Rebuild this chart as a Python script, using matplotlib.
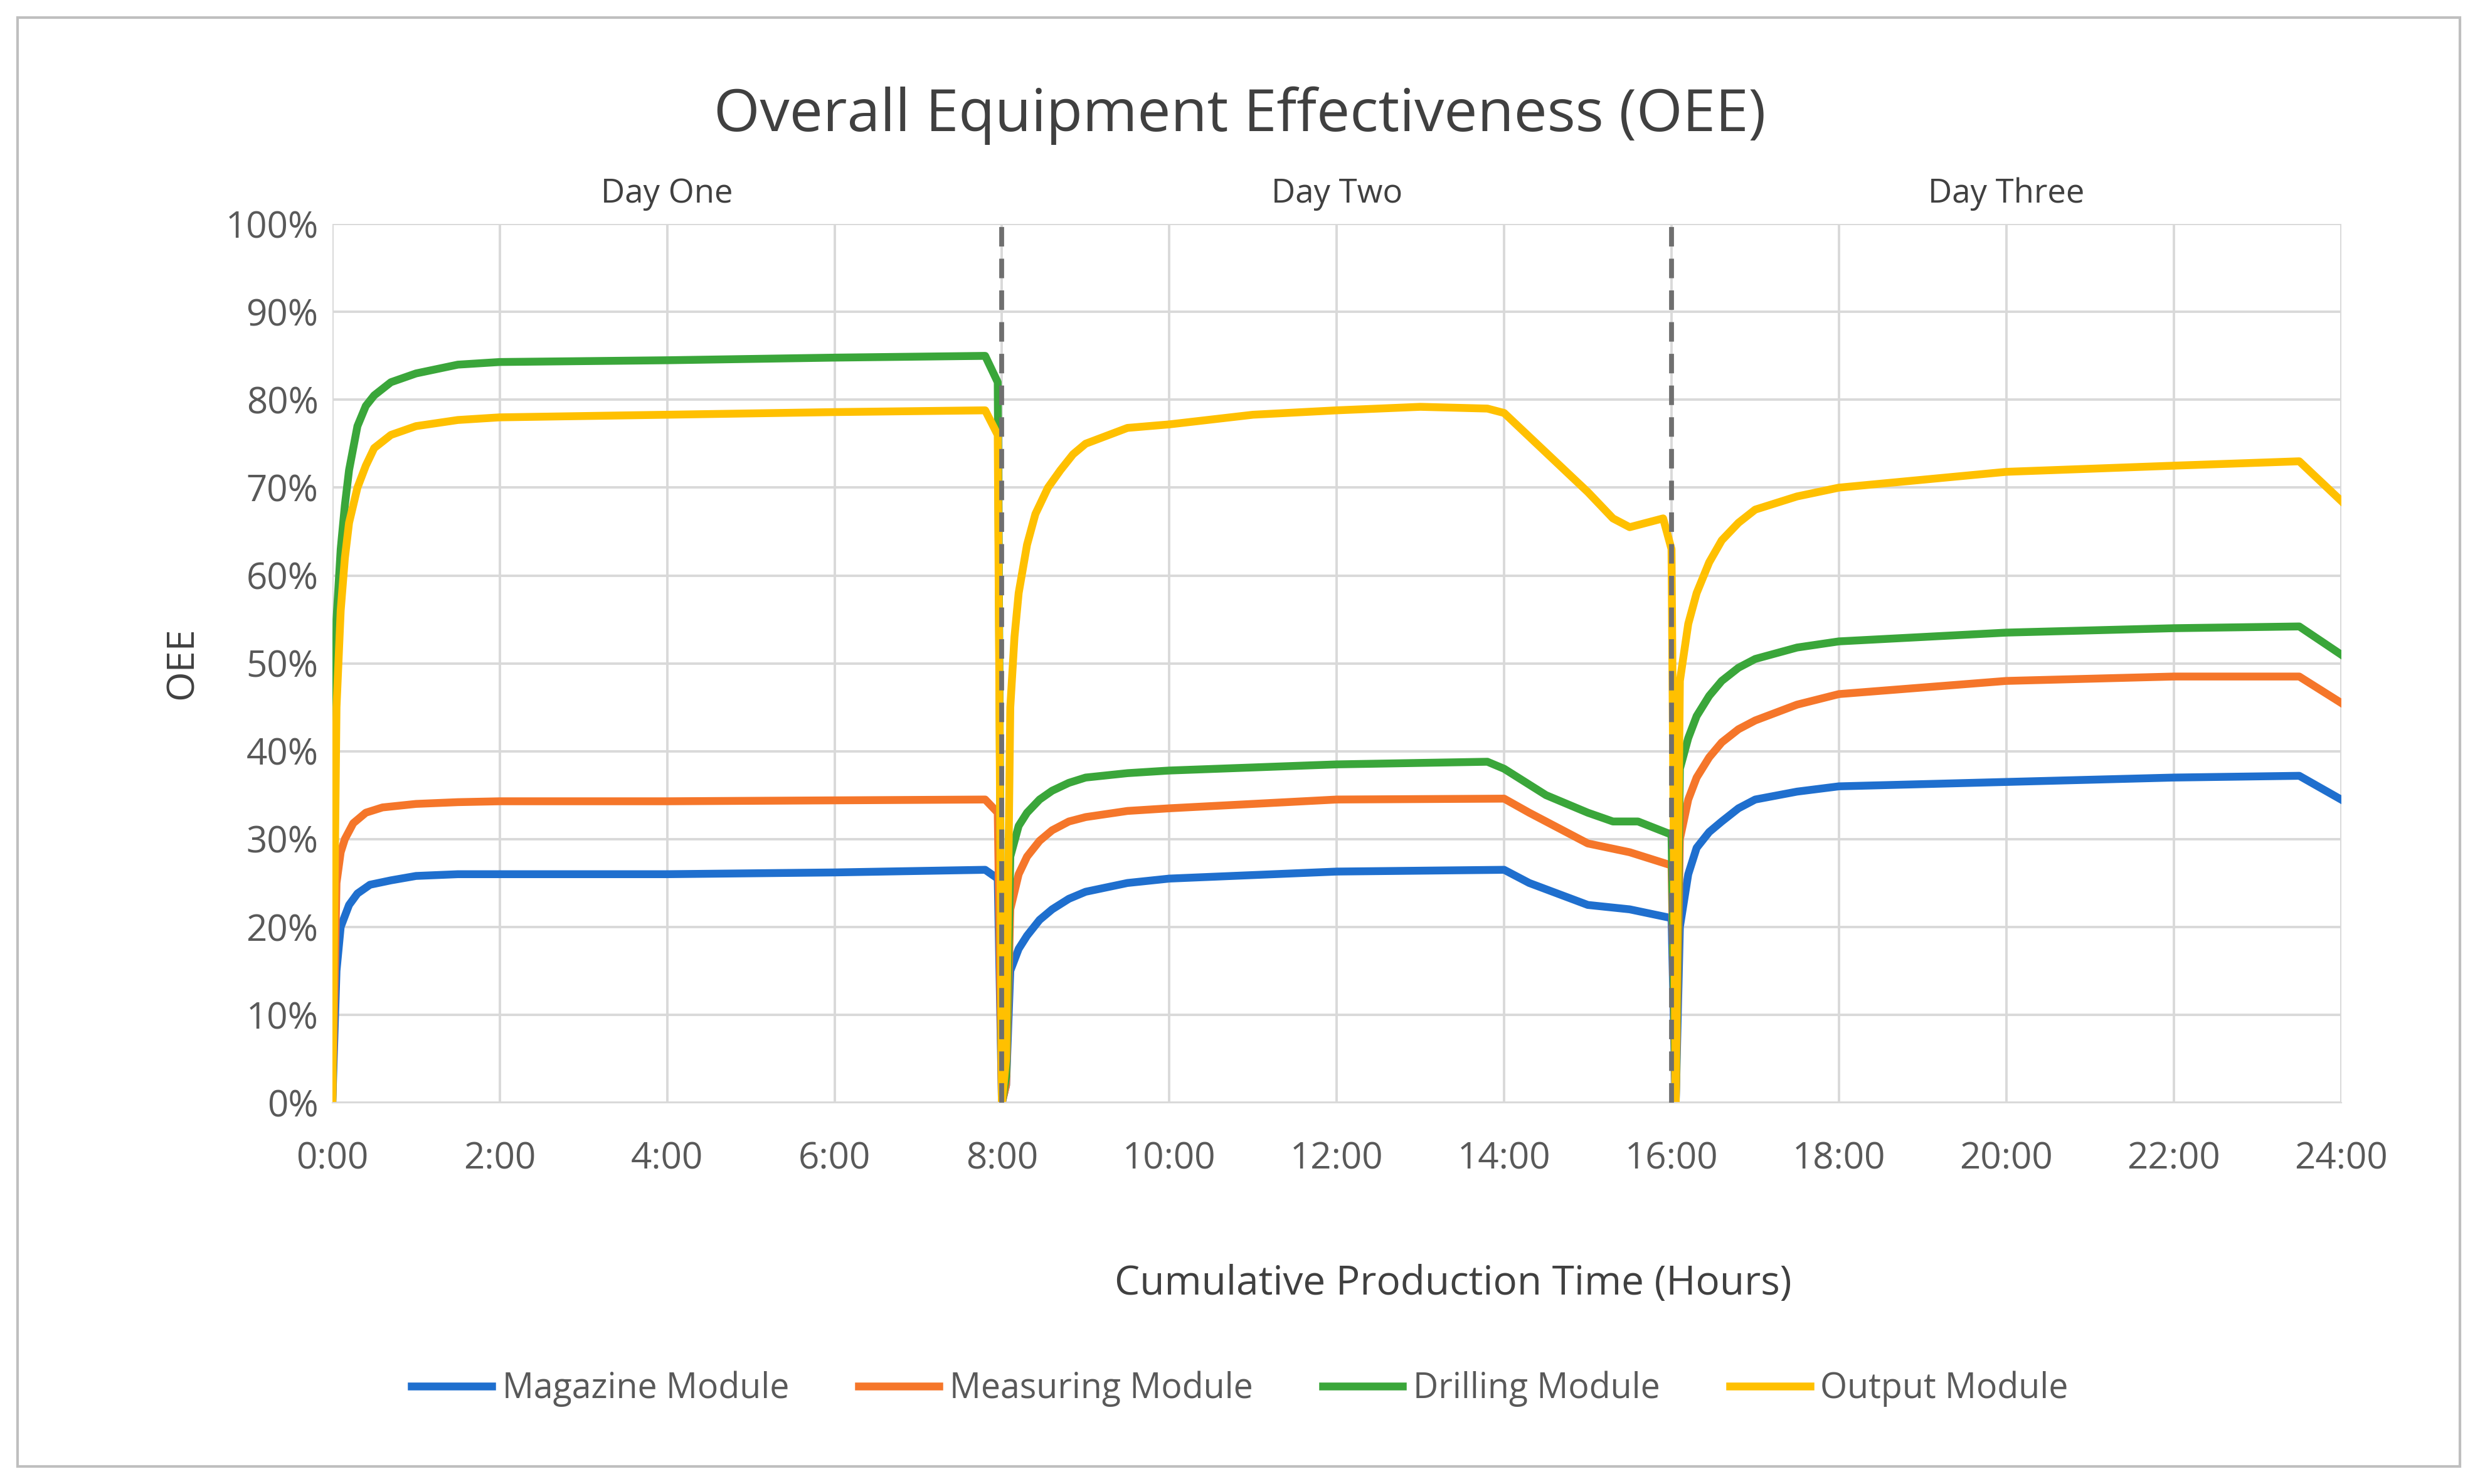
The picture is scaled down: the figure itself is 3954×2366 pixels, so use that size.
import matplotlib.pyplot as plt
from matplotlib.patches import Rectangle

plt.rcParams['font.family'] = ['Open Sans', 'DejaVu Sans']

# time in hours, OEE in %
mag_t = [0, 0.05, 0.1, 0.2, 0.3, 0.45, 0.7, 1, 1.5, 2, 4, 6, 7.8, 7.95, 8.0,
         8.05, 8.1, 8.2, 8.3, 8.45, 8.6, 8.8, 9, 9.5, 10, 12, 14, 14.3, 15, 15.5, 16,
         16.05, 16.1, 16.2, 16.3, 16.45, 16.6, 16.8, 17, 17.5, 18, 20, 22, 23.5, 24]
mag_v = [0, 15, 20, 22.5, 23.8, 24.8, 25.3, 25.8, 26, 26, 26, 26.2, 26.5, 25.5, 0,
         2, 15, 17.5, 19, 20.8, 22, 23.2, 24, 25, 25.5, 26.3, 26.5, 25, 22.5, 22, 21,
         0, 20, 26, 29, 30.8, 32, 33.5, 34.5, 35.4, 36, 36.5, 37, 37.2, 34.5]

meas_t = [0, 0.05, 0.1, 0.15, 0.25, 0.4, 0.6, 1, 1.5, 2, 4, 7.8, 7.95, 8.0,
          8.05, 8.1, 8.2, 8.3, 8.45, 8.6, 8.8, 9, 9.5, 10, 12, 14, 14.3, 15, 15.5, 16,
          16.05, 16.1, 16.2, 16.3, 16.45, 16.6, 16.8, 17, 17.5, 18, 20, 22, 23.5, 24]
meas_v = [0, 25, 28.5, 30, 31.8, 33, 33.6, 34, 34.2, 34.3, 34.3, 34.5, 33, 0,
          2, 22, 26, 28, 29.8, 31, 32, 32.5, 33.2, 33.5, 34.5, 34.6, 33, 29.5, 28.5, 27,
          0, 30, 34.5, 37, 39.3, 41, 42.5, 43.5, 45.3, 46.5, 48, 48.5, 48.5, 45.5]

drill_t = [0, 0.05, 0.1, 0.15, 0.2, 0.3, 0.4, 0.5, 0.7, 1, 1.5, 2, 4, 6, 7.8, 7.95, 8.0,
           8.05, 8.1, 8.2, 8.3, 8.45, 8.6, 8.8, 9, 9.5, 10, 12, 13.8, 14, 14.5, 15, 15.3, 15.6, 16,
           16.05, 16.1, 16.2, 16.3, 16.45, 16.6, 16.8, 17, 17.5, 18, 20, 22, 23.5, 24]
drill_v = [0, 55, 63, 68, 72, 77, 79.3, 80.5, 82, 83, 84, 84.3, 84.5, 84.8, 85, 82, 0,
           3, 28, 31.5, 33, 34.5, 35.5, 36.4, 37, 37.5, 37.8, 38.5, 38.8, 38, 35, 33, 32, 32, 30.5,
           0, 38, 41.5, 44, 46.3, 48, 49.5, 50.5, 51.8, 52.5, 53.5, 54, 54.2, 51]

out_t = [0, 0.05, 0.1, 0.15, 0.2, 0.3, 0.4, 0.5, 0.7, 1, 1.5, 2, 4, 6, 7.8, 7.95, 8.0,
         8.05, 8.1, 8.15, 8.2, 8.3, 8.4, 8.55, 8.7, 8.85, 9, 9.5, 10, 11, 12, 13, 13.8, 14,
         14.5, 15, 15.3, 15.5, 15.9, 16,
         16.05, 16.1, 16.2, 16.3, 16.45, 16.6, 16.8, 17, 17.5, 18, 20, 22, 23.5, 24]
out_v = [0, 45, 56, 62, 66, 70, 72.5, 74.5, 76, 77, 77.7, 78, 78.3, 78.6, 78.8, 76, 0,
         5, 45, 53, 58, 63.5, 67, 70, 72, 73.8, 75, 76.8, 77.2, 78.3, 78.8, 79.2, 79, 78.5,
         74, 69.5, 66.5, 65.5, 66.5, 63,
         0, 48, 54.5, 58, 61.5, 64, 66, 67.5, 69, 70, 71.8, 72.5, 73, 68.5]

series = [("Magazine Module", mag_t, mag_v, "#1f6fce"),
          ("Measuring Module", meas_t, meas_v, "#f5762a"),
          ("Drilling Module", drill_t, drill_v, "#3aa63a"),
          ("Output Module", out_t, out_v, "#ffc000")]
days = ["Day One", "Day Two", "Day Three"]

fig = plt.figure(figsize=(19.77, 11.83), dpi=200)
fig.patches.append(Rectangle((0.007, 0.012), 0.985, 0.976, transform=fig.transFigure,
                             fill=False, edgecolor="#bfbfbf", lw=1.5))
ax = fig.add_axes([0.134, 0.257, 0.81, 0.592])

for name, t, v, c in series:
    ax.plot(t, v, color=c, lw=4.5, label=name, solid_joinstyle="round")

for x in (8, 16):
    ax.axvline(x, color="#6f6f6f", lw=2.8, ls=(0, (4, 2.5)), zorder=5)
for i, d in enumerate(days):
    ax.text(4 + 8 * i, 101.5, d, ha="center", va="bottom", fontsize=19, color="#404040")

ax.set_xlim(0, 24)
ax.set_ylim(0, 100)
ax.set_xticks(range(0, 25, 2))
ax.set_xticklabels([f"{h}:00" for h in range(0, 25, 2)])
ax.set_yticks(range(0, 101, 10))
ax.set_yticklabels([f"{y}%" for y in range(0, 101, 10)])
ax.tick_params(labelsize=21, colors="#595959", length=0)
ax.tick_params(axis="x", pad=22)
ax.tick_params(axis="y", pad=8)
ax.grid(color="#d9d9d9", lw=1.4)
ax.set_axisbelow(True)
for s in ax.spines.values():
    s.set_visible(False)
ax.spines["bottom"].set_visible(True)
ax.spines["bottom"].set_color("#d9d9d9")

ax.set_ylabel("OEE", fontsize=22, color="#404040", labelpad=14)
fig.text(0.586, 0.135, "Cumulative Production Time (Hours)", ha="center", va="center",
         fontsize=23, color="#404040")
fig.text(0.5, 0.922, "Overall Equipment Effectiveness (OEE)", ha="center", va="center",
         fontsize=34, color="#404040")
fig.legend(loc="center", bbox_to_anchor=(0.5, 0.064), ncol=4, frameon=False,
           fontsize=20, handlelength=2.3, handletextpad=0.3, columnspacing=2.0,
           labelcolor="#595959")

fig.savefig("out.png", dpi=200)
